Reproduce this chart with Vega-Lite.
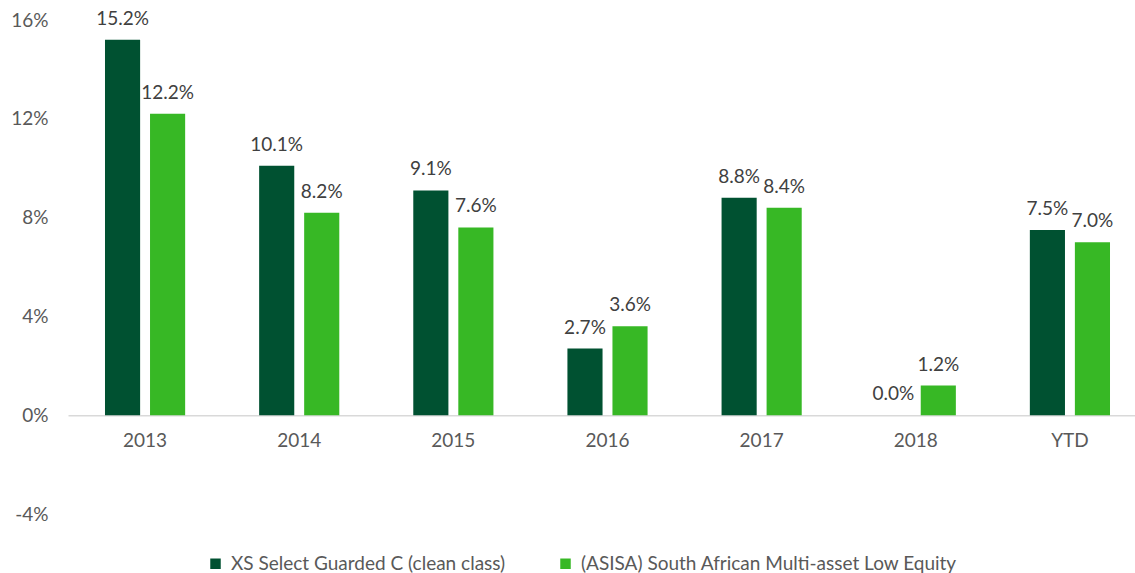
{
  "$schema": "https://vega.github.io/schema/vega-lite/v6.json",
  "autosize": {"type": "none"},
  "padding": {"left": 68, "top": 20, "right": 0, "bottom": 59},
  "width": 1067,
  "height": 494,
  "background": "white",
  "config": {
    "view": {"stroke": null},
    "font": "Lato",
    "text": {"font": "Lato"}
  },
  "data": {
    "values": [
      {"cat": "2013", "series": "XS Select Guarded C (clean class)", "value": 0.152},
      {"cat": "2013", "series": "(ASISA) South African Multi-asset Low Equity", "value": 0.122},
      {"cat": "2014", "series": "XS Select Guarded C (clean class)", "value": 0.101},
      {"cat": "2014", "series": "(ASISA) South African Multi-asset Low Equity", "value": 0.082},
      {"cat": "2015", "series": "XS Select Guarded C (clean class)", "value": 0.091},
      {"cat": "2015", "series": "(ASISA) South African Multi-asset Low Equity", "value": 0.076},
      {"cat": "2016", "series": "XS Select Guarded C (clean class)", "value": 0.027},
      {"cat": "2016", "series": "(ASISA) South African Multi-asset Low Equity", "value": 0.036},
      {"cat": "2017", "series": "XS Select Guarded C (clean class)", "value": 0.088},
      {"cat": "2017", "series": "(ASISA) South African Multi-asset Low Equity", "value": 0.084},
      {"cat": "2018", "series": "XS Select Guarded C (clean class)", "value": 0.0},
      {"cat": "2018", "series": "(ASISA) South African Multi-asset Low Equity", "value": 0.012},
      {"cat": "YTD", "series": "XS Select Guarded C (clean class)", "value": 0.075},
      {"cat": "YTD", "series": "(ASISA) South African Multi-asset Low Equity", "value": 0.07}
    ]
  },
  "encoding": {
    "x": {
      "field": "cat", "type": "nominal", "sort": null,
      "scale": {"range": [0, 1079], "paddingInner": 0.48, "paddingOuter": 0.24},
      "axis": {
        "title": null, "labelAngle": 0, "offset": -98.8, "ticks": false,
        "domainColor": "#d9d9d9", "domainWidth": 1.5,
        "labelColor": "#595959", "labelFontSize": 19, "labelPadding": 16,
        "labelFont": "Lato"
      }
    },
    "xOffset": {
      "field": "series", "type": "nominal",
      "sort": ["XS Select Guarded C (clean class)", "(ASISA) South African Multi-asset Low Equity"],
      "scale": {"paddingInner": 0.22, "paddingOuter": 0}
    },
    "y": {
      "field": "value", "type": "quantitative",
      "scale": {"domain": [-0.04, 0.16], "nice": false, "zero": false},
      "axis": {
        "title": null, "values": [-0.04, 0, 0.04, 0.08, 0.12, 0.16],
        "labelExpr": "round(datum.value*100) + '%'",
        "grid": false, "domain": false, "ticks": false,
        "labelColor": "#595959", "labelFontSize": 19, "labelPadding": 20,
        "labelFont": "Lato"
      }
    }
  },
  "layer": [
    {
      "mark": {"type": "bar"},
      "encoding": {
        "color": {
          "field": "series", "type": "nominal",
          "scale": {
            "domain": ["XS Select Guarded C (clean class)", "(ASISA) South African Multi-asset Low Equity"],
            "range": ["#005131", "#37B825"]
          },
          "legend": {
            "title": null, "orient": "none", "direction": "horizontal",
            "legendX": 138, "legendY": 534,
            "symbolType": "square", "symbolSize": 110, "symbolStrokeWidth": 0,
            "labelFontSize": 19, "labelColor": "#595959", "labelFont": "Lato",
            "columnPadding": 50, "labelOffset": 6, "labelLimit": 500
          }
        }
      }
    },
    {
      "mark": {"type": "text", "baseline": "bottom", "dy": -11, "fontSize": 19, "color": "#404040"},
      "encoding": {
        "text": {"field": "value", "type": "quantitative", "format": ".1%"}
      }
    }
  ]
}
